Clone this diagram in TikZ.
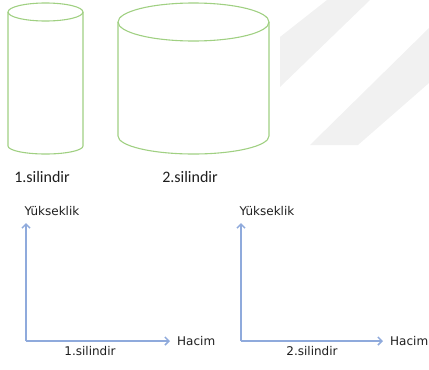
\documentclass[tikz,border=0pt]{standalone}
\usepackage{fontspec}
\setmainfont{Carlito}
\newfontfamily\axisfont{DejaVu Sans}
\usetikzlibrary{arrows.meta}
\definecolor{cylgreen}{RGB}{160,208,130}
\definecolor{axisblue}{RGB}{143,170,220}
\definecolor{wmgrey}{RGB}{241,241,241}
\definecolor{txtgrey}{RGB}{30,30,30}

\begin{document}
\begin{tikzpicture}[x=1pt,y=-1pt,
	cyl/.style={draw=cylgreen, line width=1.1pt},
	axis/.style={draw=axisblue, line width=1.5pt, -{Straight Barb[length=4pt,width=8pt]}},
	lbl/.style={text=txtgrey, inner sep=0pt, font=\fontsize{16}{19}\selectfont},
	axlbl/.style={lbl, font=\axisfont\fontsize{12}{14}\selectfont}]
\useasboundingbox (0,0) rectangle (429,370);
\fill[wmgrey] (280,37) -- (327,0) -- (370,0) -- (280,87) -- cycle;
\fill[wmgrey] (310,145) -- (429,28) -- (429,83) -- (358,145) -- cycle;
\foreach \cx/\rx/\ty/\tr/\by/\br/\n in {45.5/37.5/12/9/146/8/1, 193.5/75.5/22/19/136/18/2}{
	\draw[cyl] (\cx,\ty) ellipse ({\rx} and {\tr});
	\draw[cyl] (\cx-\rx,\ty) -- (\cx-\rx,\by)
		arc[start angle=180, end angle=0, x radius=\rx, y radius=\br] -- (\cx+\rx,\ty);
	\node[lbl] (c\n) at (\cx-3.5,177) {\n.silindir};
}
\foreach \ox/\xe/\sx/\n in {26/170/64/1, 241/383/71/2}{
	\coordinate (o\n) at (\ox,341);
	\coordinate (ye\n) at (\ox,223);
	\coordinate (xe\n) at (\xe,341);
	\draw[axis] (o\n) -- (ye\n);
	\draw[axis] (o\n) -- (xe\n);
	\node[axlbl, anchor=west] (h\n) at (\xe+7,341) {Hacim};
	\node[axlbl] (y\n) at (\ox+26,211) {Yükseklik};
	\node[axlbl] (s\n) at (\ox+\sx,351) {\n.silindir};
}
\end{tikzpicture}
\end{document}
